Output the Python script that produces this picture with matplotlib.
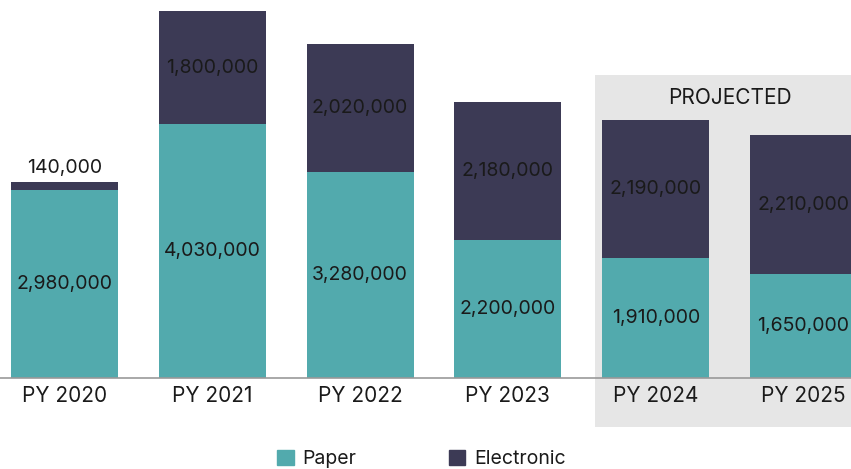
import matplotlib
matplotlib.use("Agg")
import matplotlib.pyplot as plt
from matplotlib.patches import Rectangle, Patch
import numpy as np

plt.rcParams['font.family'] = ['Inter', 'DejaVu Sans']

categories = ["PY 2020", "PY 2021", "PY 2022", "PY 2023", "PY 2024", "PY 2025"]
paper = [2980000, 4030000, 3280000, 2200000, 1910000, 1650000]
electronic = [140000, 1800000, 2020000, 2180000, 2190000, 2210000]

c_paper = "#52aaad"
c_elec = "#3c3a55"
txt = "#1a1a1a"

W, H = 851, 469
fig = plt.figure(figsize=(W/100, H/100), dpi=100)

# projected background
bg = Rectangle((595/W, (H-427)/H), (W-595)/W, (427-75)/H,
               transform=fig.transFigure, facecolor="#e6e6e6",
               edgecolor="none", zorder=-10)
fig.patches.append(bg)

ax = fig.add_axes([0, (H-378)/H, 1, 378/H])
ax.set_zorder(1)
ax.patch.set_visible(False)
x = np.arange(len(categories))
bw = 0.724
ax.bar(x, paper, bw, color=c_paper, zorder=2)
ax.bar(x, electronic, bw, bottom=paper, color=c_elec, zorder=2)

fs = 14
for i in range(len(categories)):
    ax.text(x[i], paper[i]/2, f"{paper[i]:,}", ha="center", va="center",
            fontsize=fs, color=txt, zorder=3)
    if electronic[i] < 400000:
        ax.text(x[i], paper[i]+electronic[i]+70000, f"{electronic[i]:,}",
                ha="center", va="bottom", fontsize=fs, color=txt, zorder=3)
    else:
        ax.text(x[i], paper[i]+electronic[i]/2, f"{electronic[i]:,}",
                ha="center", va="center", fontsize=fs, color=txt, zorder=3)

ax.set_xlim(-64.5/147.8, (W-64.5)/147.8)
ax.set_ylim(0, 5830000*378/367)
for s in ["top", "right", "left"]:
    ax.spines[s].set_visible(False)
ax.spines["bottom"].set_color("#999999")
ax.spines["bottom"].set_linewidth(1.2)
ax.set_yticks([])
ax.set_xticks(x)
ax.set_xticklabels(categories, fontsize=15, color=txt)
ax.tick_params(axis="x", length=0, pad=6)

fig.text(730/W, (H-98)/H, "PROJECTED", ha="center", va="center",
         fontsize=15, color=txt)

handles = [Patch(color=c_paper, label="Paper"), Patch(color=c_elec, label="Electronic")]
fig.legend(handles=handles, loc="center", bbox_to_anchor=(0.5 - 4/W, (H-459)/H), ncol=2,
           frameon=False, fontsize=fs, handlelength=0.85, handleheight=0.85,
           columnspacing=4.75, handletextpad=0.45, labelcolor=txt)

fig.savefig("out.png", dpi=100)
